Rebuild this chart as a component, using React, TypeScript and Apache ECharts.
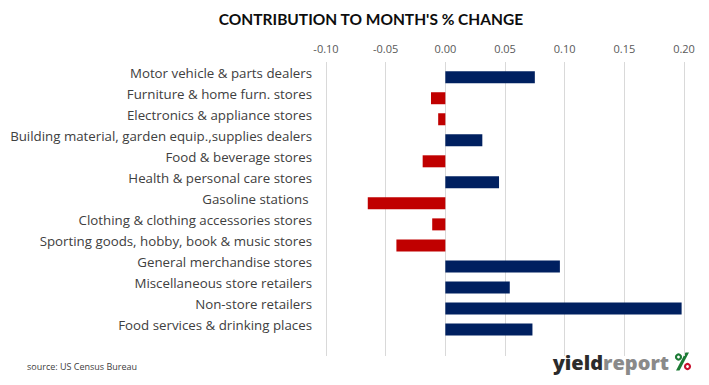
import React, { useEffect, useRef } from "react";
import * as echarts from "echarts";

const categories = [
  "Motor vehicle & parts dealers",
  "Furniture & home furn. stores",
  "Electronics & appliance stores",
  "Building material, garden equip.,supplies dealers",
  "Food & beverage stores",
  "Health & personal care stores",
  "Gasoline stations ",
  "Clothing & clothing accessories stores",
  "Sporting goods, hobby, book & music stores",
  "General merchandise stores",
  "Miscellaneous store retailers",
  "Non-store retailers",
  "Food services & drinking places",
];

const contributions = [
  0.075, -0.012, -0.006, 0.031, -0.019, 0.045, -0.065, -0.011, -0.041, 0.096,
  0.054, 0.198, 0.073,
];

const axisMin = -0.1;
const axisMax = 0.2;
const axisInterval = 0.05;

const titleText = "CONTRIBUTION TO MONTH'S % CHANGE";
const sourceText = "source: US Census Bureau";

const POS_COLOR = "#002060";
const NEG_COLOR = "#C00000";
const LOGO_GREEN = "#1b7a34";
const LOGO_RED = "#c8102e";

export default function App() {
  const ref = useRef<HTMLDivElement>(null);

  useEffect(() => {
    if (!ref.current) return;
    const chart = echarts.init(ref.current, null, { renderer: "svg" });
    const font = "Lato, 'Open Sans', sans-serif";
    const labelFont = "'Open Sans', Lato, sans-serif";
    chart.setOption({
      animation: false,
      backgroundColor: "#ffffff",
      title: {
        text: titleText,
        left: 366,
        top: 6,
        textAlign: "center",
        textStyle: {
          fontFamily: font,
          fontWeight: "bold",
          fontSize: 15.5,
          color: "#0d0d0d",
        },
      },
      grid: [
        { left: 326, right: 25, top: 66.7, bottom: 45 },
        { left: 326, right: 25, top: 62, bottom: 29 },
      ],
      xAxis: [
        {
          gridIndex: 0,
          type: "value",
          min: axisMin,
          max: axisMax,
          interval: axisInterval,
          show: false,
        },
        {
          gridIndex: 1,
          type: "value",
          position: "top",
          min: axisMin,
          max: axisMax,
          interval: axisInterval,
          axisLine: { show: false },
          axisTick: { show: false },
          axisLabel: {
            margin: 8,
            fontFamily: labelFont,
            fontSize: 11,
            color: "#595959",
            formatter: (v: number) => v.toFixed(2),
          },
          splitLine: { show: true, lineStyle: { color: "#d9d9d9", width: 1 } },
        },
      ],
      yAxis: [
        {
          gridIndex: 0,
          type: "category",
          inverse: true,
          data: categories,
          axisLine: { show: false },
          axisTick: { show: false },
          axisLabel: {
            margin: 14,
            fontFamily: labelFont,
            fontSize: 13.3,
            color: "#404040",
            verticalAlign: "bottom",
            lineHeight: 8,
          },
        },
        {
          gridIndex: 1,
          type: "value",
          show: false,
          min: 0,
          max: 1,
        },
      ],
      series: [
        {
          type: "bar",
          xAxisIndex: 0,
          yAxisIndex: 0,
          barWidth: 12,
          data: contributions,
          itemStyle: {
            color: (p: any) => (p.value < 0 ? NEG_COLOR : POS_COLOR),
          },
        },
      ],
      graphic: [
        {
          type: "text",
          left: 27,
          top: 362,
          style: {
            text: sourceText,
            fontFamily: labelFont,
            fontSize: 9,
            fill: "#404040",
          },
        },
        {
          type: "text",
          x: 669,
          y: 362,
          style: {
            text: "{a|yield}{b|report}",
            align: "right",
            verticalAlign: "middle",
            rich: {
              a: {
                fontFamily: labelFont,
                fontWeight: 800,
                fontSize: 20,
                fill: "#2b2b2b",
              },
              b: {
                fontFamily: labelFont,
                fontWeight: 800,
                fontSize: 20,
                fill: "#8a8a8a",
              },
            },
          },
        },
        {
          type: "ring",
          shape: { cx: 678.5, cy: 357, r: 3.6, r0: 1.4 },
          style: { fill: LOGO_GREEN },
        },
        {
          type: "polygon",
          shape: {
            points: [
              [685.5, 352.5],
              [689, 352.5],
              [679.5, 370.5],
              [676, 370.5],
            ],
          },
          style: { fill: LOGO_GREEN },
        },
        {
          type: "ring",
          shape: { cx: 687.5, cy: 366.5, r: 3.6, r0: 1.4 },
          style: { fill: LOGO_RED },
        },
      ],
    });
    return () => chart.dispose();
  }, []);

  return (
    <div
      ref={ref}
      style={{ position: "fixed", left: 0, top: 0, width: 709, height: 385 }}
    />
  );
}
